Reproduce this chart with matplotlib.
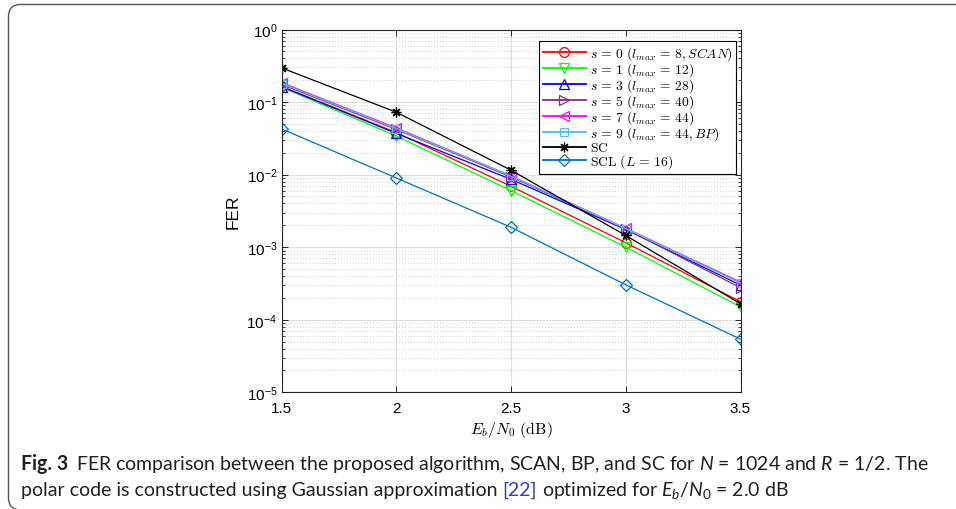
import matplotlib
matplotlib.use('Agg')
import matplotlib.pyplot as plt
from matplotlib.patches import FancyBboxPatch
from matplotlib.transforms import IdentityTransform
from matplotlib.ticker import LogLocator, NullFormatter, FixedLocator

plt.rcParams['font.family'] = ['Liberation Sans', 'DejaVu Sans']
plt.rcParams['mathtext.fontset'] = 'cm'
plt.rcParams['mathtext.rm'] = 'Lato'
plt.rcParams['mathtext.it'] = 'Lato:italic'

# ---------------- data ----------------
ebn0 = [1.5, 2.0, 2.5, 3.0, 3.5]
fer_s0 = [0.165, 0.038, 0.0069, 1.15e-3, 1.77e-4]
fer_s1 = [0.160, 0.034, 0.0060, 1.00e-3, 1.50e-4]
fer_s3 = [0.163, 0.037, 0.0086, 1.75e-3, 3.00e-4]
fer_s5 = [0.175, 0.042, 0.0093, 1.78e-3, 2.76e-4]
fer_s7 = [0.185, 0.044, 0.0096, 1.82e-3, 3.30e-4]
fer_s9 = [0.180, 0.043, 0.0095, 1.80e-3, 3.20e-4]
fer_sc = [0.296, 0.0725, 0.0115, 1.45e-3, 1.66e-4]
fer_scl = [0.0427, 0.0090, 0.00188, 3.03e-4, 5.4e-5]

series = [fer_s0, fer_s1, fer_s3, fer_s5, fer_s7, fer_s9, fer_sc, fer_scl]
labels = [r'$s\,=\,0\ (l_{max}\,=\,8,SCAN)$',
          r'$s\,=\,1\ (l_{max}\,=\,12)$',
          r'$s\,=\,3\ (l_{max}\,=\,28)$',
          r'$s\,=\,5\ (l_{max}\,=\,40)$',
          r'$s\,=\,7\ (l_{max}\,=\,44)$',
          r'$s\,=\,9\ (l_{max}\,=\,44,BP)$',
          r'$\mathrm{SC}$',
          r'$\mathrm{SCL}\ (L\,=\,16)$']
colors = ['#ff0000', '#00ff00', '#0000ff', '#7e2f8e', '#ff00ff', '#4dbeee', '#000000', '#0072bd']
markers = ['o', 'v', '^', '>', '<', 's', (8, 2, 0), 'D']
msizes = [7, 7.5, 7.5, 7.5, 7.5, 5.5, 7, 6]

xticks = [1.5, 2.0, 2.5, 3.0, 3.5]
xtick_labels = ['1.5', '2', '2.5', '3', '3.5']

# ---------------- figure ----------------
W, H = 956, 510
fig = plt.figure(figsize=(W / 100, H / 100), dpi=100)
ax = fig.add_axes([281.5 / W, 1 - 393.3 / H, 459 / W, 362.8 / H])

for y, lab, c, m, ms in zip(series, labels, colors, markers, msizes):
    ax.semilogy(ebn0, y, color=c, marker=m, markersize=ms, markerfacecolor='none',
                markeredgecolor=c, markeredgewidth=0.9, linewidth=0.9, label=lab)

ax.set_xlim(1.5, 3.5)
ax.set_ylim(1e-5, 1)
ax.xaxis.set_major_locator(FixedLocator(xticks))
ax.set_xticklabels(xtick_labels)
ax.yaxis.set_major_locator(LogLocator(base=10, numticks=10))
ax.yaxis.set_minor_locator(LogLocator(base=10, subs=range(2, 10), numticks=20))
ax.yaxis.set_minor_formatter(NullFormatter())

ax.grid(True, which='major', color='#dedede', linestyle='-', linewidth=0.8)
ax.grid(True, which='minor', axis='y', color='#c4c4c4', linestyle=(0, (1, 2.5)), linewidth=0.6)
ax.set_axisbelow(True)

for sp in ax.spines.values():
    sp.set_color('#262626')
    sp.set_linewidth(0.8)
ax.tick_params(which='both', direction='in', top=True, right=True, colors='#262626',
               labelcolor='black', labelsize=11)
ax.tick_params(which='major', length=4.5, width=0.7)
ax.tick_params(which='minor', length=2.5, width=0.6)
ax.tick_params(axis='x', pad=6)
ax.tick_params(axis='y', pad=3)

ax.set_xlabel(r'$E_b/N_0\ \mathrm{(dB)}$', fontsize=11.5, labelpad=3)
ax.set_ylabel('FER', fontsize=12.5, labelpad=4)

leg = ax.legend(loc='upper right', bbox_to_anchor=((736 - 281.5) / 459, 1 - (42 - 30.5) / 362.8),
                borderaxespad=0, fontsize=9.8, handlelength=3.2, handletextpad=0.25,
                labelspacing=-0.13, borderpad=0.25, fancybox=False, framealpha=1,
                edgecolor='black')
leg.get_frame().set_linewidth(0.8)
for ln in leg.get_lines():
    ln.set_linewidth(1.3)

# ---------------- outer frame ----------------
frame = FancyBboxPatch((8.5, -0.8), 1000, 505.3, boxstyle='round,pad=0,rounding_size=12',
                       transform=IdentityTransform(), fill=False, edgecolor='#555555',
                       linewidth=1.0)
fig.add_artist(frame)

# ---------------- caption ----------------
renderer = fig.canvas.get_renderer()
cap_color = '#231f20'


def width_of(s, size, **kw):
    t = fig.text(0, 0, s, transform=IdentityTransform(), fontsize=size, **kw)
    w = t.get_window_extent(renderer).width
    t.remove()
    return w


line1 = [('Fig. 3', dict(fontweight='bold', family='Lato'), 1.6),
         (r'FER comparison between the proposed algorithm, SCAN, BP, and SC for $N$ = 1024 and $R$ = 1/2. The',
          dict(family='Lato', math_fontfamily='custom'), 0)]
line2 = [('polar code is constructed using Gaussian approximation', dict(family='Lato'), 1),
         ('[22]', dict(family='Lato', color='#2f3fbf'), 1),
         (r'optimized for $E_b/N_0$ = 2.0 dB', dict(family='Lato', math_fontfamily='custom'), 0)]


def layout(lines, size, draw=False):
    sp = width_of('a a', size, family='Lato') - width_of('aa', size, family='Lato')
    ends = []
    for (ypix, segs) in lines:
        x = 21
        for s, kw, nsp in segs:
            kw2 = dict(kw)
            kw2.setdefault('color', cap_color)
            if draw:
                t = fig.text(x, H - ypix, s, transform=IdentityTransform(), fontsize=size,
                             va='baseline', ha='left', **kw2)
                w = t.get_window_extent(renderer).width
            else:
                w = width_of(s, size, **kw2)
            x += w + nsp * sp
        ends.append(x)
    return ends


lines = [(470.5, line1), (495.7, line2)]
base = 13.0
e = layout(lines, base)
size = base * (927 - 21) / (e[0] - 21)
layout(lines, size, draw=True)

fig.savefig('out.png', dpi=100)
